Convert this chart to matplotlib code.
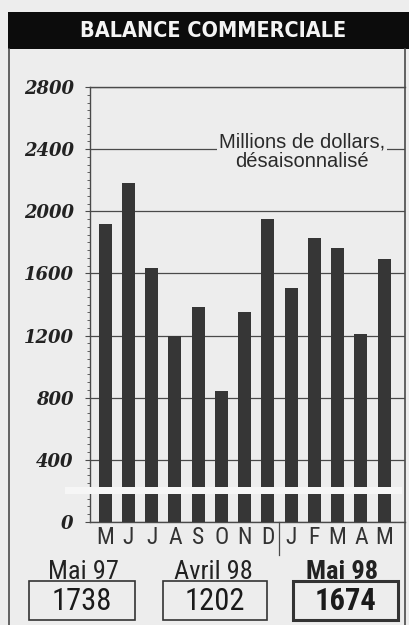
import matplotlib
matplotlib.use('Agg')
import matplotlib.pyplot as plt
from matplotlib.patches import Rectangle
from matplotlib.lines import Line2D
from matplotlib.font_manager import FontProperties
import matplotlib.transforms as mtransforms
import numpy as np

# ---- data ----
months = ['M', 'J', 'J', 'A', 'S', 'O', 'N', 'D', 'J', 'F', 'M', 'A', 'M']
values = [1915, 2185, 1632, 1200, 1385, 845, 1350, 1950, 1505, 1825, 1765, 1212, 1695]
yticks = [0, 400, 800, 1200, 1600, 2000, 2400, 2800]
box_labels = ['Mai 97', 'Avril 98', 'Mai 98']
box_values = ['1738', '1202', '1674']
title = 'BALANCE COMMERCIALE'
note = 'Millions de dollars,\ndésaisonnalisé'

BG = '#ededed'
BAR = '#363636'
LINE = '#4a4a4a'
NARROW = ['Roboto Condensed', 'PT Sans Narrow', 'DejaVu Sans']

W, H = 410, 625
fig = plt.figure(figsize=(W / 100, H / 100), dpi=100, facecolor=BG)

def fx(px):
    return px / W

def fy(py):
    return 1 - py / H

# title band
fig.patches.append(Rectangle((fx(8), fy(49)), fx(410) - fx(8), fy(12) - fy(49),
                             transform=fig.transFigure, facecolor='#0c0c0c',
                             edgecolor='none', zorder=0))
fig.text(fx(213), fy(31), title, color='#f4f4f4', ha='center', va='center',
         fontsize=15.5, fontweight='bold', family='DejaVu Sans',
         fontstretch='condensed')

# outer frame lines
fig.lines.append(Line2D([fx(9.5), fx(9.5)], [fy(49), fy(625)], transform=fig.transFigure,
                        color=LINE, lw=1.2))
fig.lines.append(Line2D([fx(405.5), fx(405.5)], [fy(49), fy(625)], transform=fig.transFigure,
                        color=LINE, lw=1.2))

# axes
ax = fig.add_axes([fx(90), fy(522), fx(405) - fx(90), fy(87) - fy(522)])
ax.set_facecolor(BG)
x = np.arange(len(values))
ax.bar(x, values, width=0.56, color=BAR, zorder=3)
ax.set_xlim(-0.65, 12.9)
ax.set_ylim(0, 2800)

yfp = FontProperties(family='DejaVu Serif', weight='bold', style='italic', size=13)
ax.set_yticks(yticks)
ax.set_yticks(np.arange(0, 2801, 50), minor=True)
ax.set_yticklabels([str(v) for v in yticks], fontproperties=yfp, color='#222222')
ax.tick_params(axis='y', which='major', length=3.8, width=0.8, color=LINE, pad=8,
               direction='out')
ax.tick_params(axis='y', which='minor', length=2.2, width=0.6, color=LINE,
               direction='out')
ax.set_xticks(x)
ax.set_xticklabels(months, family=NARROW, fontsize=17, color='#333333')
ax.tick_params(axis='x', length=0, pad=3)

ax.spines['right'].set_visible(False)
for s in ['left', 'top', 'bottom']:
    ax.spines[s].set_color(LINE)
    ax.spines[s].set_linewidth(1.0)
ax.yaxis.grid(True, which='major', color=LINE, lw=0.9, zorder=1)

# break band across bars
trans = mtransforms.blended_transform_factory(ax.transAxes, ax.transData)
ax.add_patch(Rectangle((-0.08, 178), 1.07, 45, transform=trans, facecolor='#f6f6f6',
                       edgecolor='none', zorder=4, clip_on=False))

# divider between years
ax.add_line(Line2D([7.5, 7.5], [0, -0.075], color=LINE, lw=0.9,
                   transform=mtransforms.blended_transform_factory(ax.transData, ax.transAxes),
                   clip_on=False))

# note
ax.text(0.673, 0.852, note, transform=ax.transAxes, ha='center', va='center',
        fontsize=14.5, family=['Liberation Sans', 'DejaVu Sans'], color='#2a2a2a',
        linespacing=1.05, zorder=5,
        bbox=dict(facecolor=BG, edgecolor='none', pad=1.5))

# bottom labels and boxes
label_x = [83, 213, 342]
box_x = [(29, 135), (163, 267), (293, 398)]
for i, (lab, val) in enumerate(zip(box_labels, box_values)):
    bold = (i == 2)
    fig.text(fx(label_x[i]), fy(572), lab, ha='center', va='center',
             fontsize=19, family=NARROW, color='#222222',
             fontweight='bold' if bold else 'normal')
    x0, x1 = box_x[i]
    fig.patches.append(Rectangle((fx(x0), fy(620)), fx(x1) - fx(x0), fy(581) - fy(620),
                                 transform=fig.transFigure, facecolor='none',
                                 edgecolor='#333333', lw=2.2 if bold else 1.2))
    fig.text(fx((x0 + x1) / 2), fy(601), val, ha='center', va='center',
             fontsize=22, family=NARROW, color='#1a1a1a',
             fontweight='bold' if bold else 'normal')

fig.savefig('out.png', dpi=100, facecolor=BG)
